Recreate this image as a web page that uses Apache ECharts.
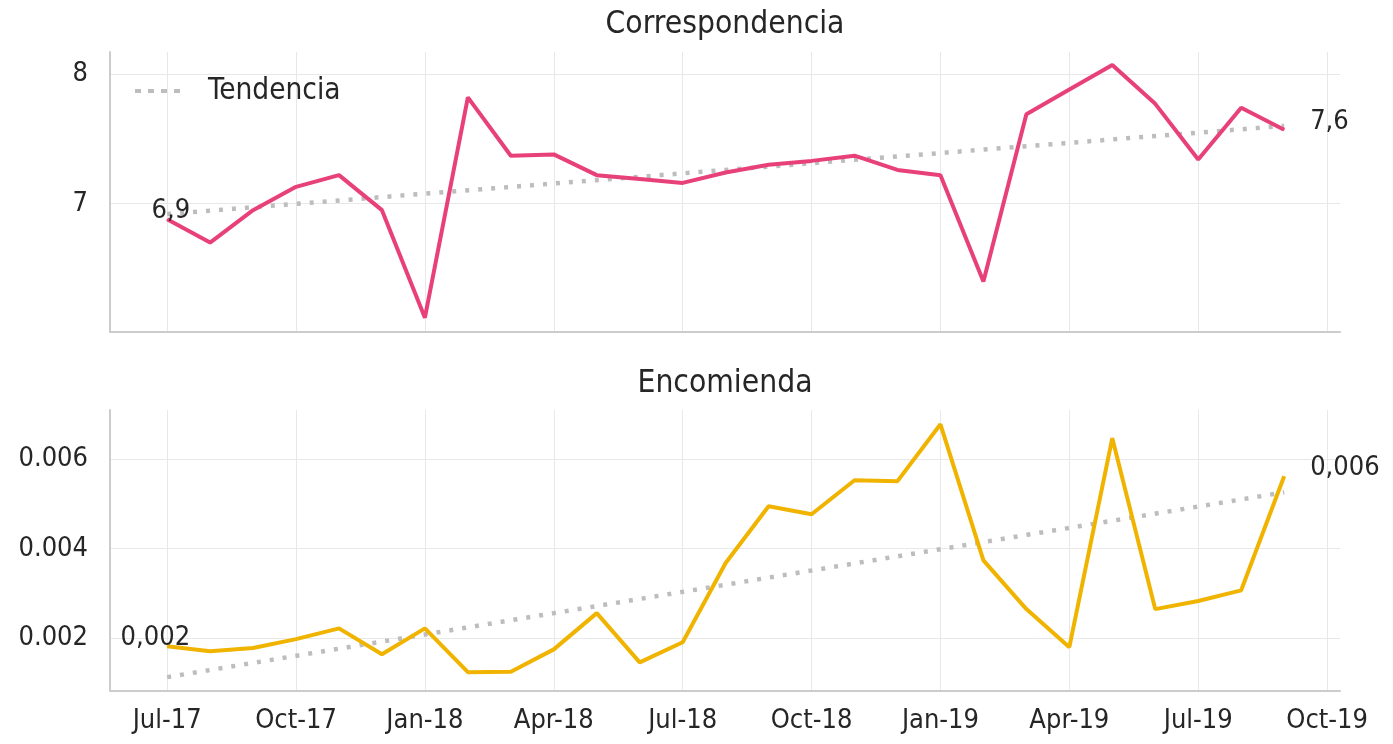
<!DOCTYPE html>
<html>
<head>
<meta charset="utf-8">
<script src="https://cdn.jsdelivr.net/npm/echarts@6/dist/echarts.min.js"></script>
<style>
html, body { margin: 0; padding: 0; background: #fff; }
#chart { width: 1393px; height: 744px; }
</style>
</head>
<body>
<div id="chart"></div>
<script>
// months Jul-17 .. Sep-19, x = month index from Jul-17
const months = ['Jul-17','Aug-17','Sep-17','Oct-17','Nov-17','Dec-17','Jan-18','Feb-18','Mar-18','Apr-18','May-18','Jun-18',
  'Jul-18','Aug-18','Sep-18','Oct-18','Nov-18','Dec-18','Jan-19','Feb-19','Mar-19','Apr-19','May-19','Jun-19','Jul-19','Aug-19','Sep-19'];
const tickLabels = ['Jul-17','Oct-17','Jan-18','Apr-18','Jul-18','Oct-18','Jan-19','Apr-19','Jul-19','Oct-19'];
const tickIdx = [0, 3, 6, 9, 12, 15, 18, 21, 24, 27];

const correspondencia = [6.88, 6.70, 6.95, 7.13, 7.22, 6.95, 6.12, 7.82, 7.37, 7.38, 7.22, 7.19, 7.16,
  7.24, 7.30, 7.33, 7.37, 7.26, 7.22, 6.40, 7.69, 7.88, 8.07, 7.77, 7.34, 7.74, 7.57];
const encomienda = [0.00182, 0.00171, 0.00178, 0.00198, 0.00222, 0.00164, 0.00222, 0.00124, 0.00125, 0.00175,
  0.00256, 0.00146, 0.00191, 0.00368, 0.00495, 0.00477, 0.00553, 0.00551, 0.00678, 0.00374, 0.00265,
  0.00180, 0.00647, 0.00265, 0.00283, 0.00307, 0.00562];
// trend endpoints (first and last month)
const trendCorr = [6.92, 7.60];
const trendEnc = [0.00113, 0.00526];

const pink = '#e8417a';
const gold = '#f0b400';
const gray = '#bdbdbd';
const txt = '#262626';
const FONT = '"DejaVu Sans Condensed", "DejaVu Sans", sans-serif';

const myChart = echarts.init(document.getElementById('chart'));

function mainData(vals, digits) {
  const last = vals.length - 1;
  return vals.map((v, i) => {
    const item = { value: [i, v] };
    if (i === 0 || i === last) {
      item.label = {
        show: true,
        position: 'inside',
        align: i === 0 ? 'right' : 'left',
        offset: i === 0 ? [23, -8] : [26, -8],
        formatter: p => p.value[1].toFixed(digits).replace('.', ','),
        fontSize: 27,
        fontFamily: FONT,
        color: txt
      };
    }
    return item;
  });
}

function xAxis(gi, showLabels) {
  return {
    type: 'value',
    gridIndex: gi,
    min: -1.33,
    max: 27.3,
    axisLine: { show: true, onZero: false, lineStyle: { color: '#cccccc', width: 2 } },
    axisTick: { show: false, customValues: tickIdx },
    axisLabel: {
      show: showLabels,
      customValues: tickIdx,
      margin: 16,
      fontSize: 27,
      fontFamily: FONT,
      color: txt,
      formatter: v => tickLabels[tickIdx.indexOf(Math.round(v))] || ''
    },
    splitLine: { show: true, lineStyle: { color: '#e8e8e8', width: 1 } }
  };
}

function yAxis(gi, min, max, ticks) {
  return {
    type: 'value',
    gridIndex: gi,
    min: min,
    max: max,
    axisLine: { show: true, onZero: false, lineStyle: { color: '#cccccc', width: 2 } },
    axisTick: { show: false, customValues: ticks },
    axisLabel: {
      customValues: ticks,
      margin: 22,
      fontSize: 27,
      fontFamily: FONT,
      color: txt,
      formatter: v => String(v)
    },
    splitLine: { show: true, lineStyle: { color: '#e8e8e8', width: 1 } }
  };
}

const trendStyle = { color: gray, width: 4.5, type: [4, 9], cap: 'butt' };

const option = {
  animation: false,
  backgroundColor: '#fff',
  title: [
    { text: 'Correspondencia', left: 725, top: 9, textAlign: 'center', padding: 0,
      textStyle: { fontSize: 31.5, fontWeight: 'normal', fontFamily: FONT, color: txt } },
    { text: 'Encomienda', left: 725, top: 368, textAlign: 'center', padding: 0,
      textStyle: { fontSize: 31.5, fontWeight: 'normal', fontFamily: FONT, color: txt } }
  ],
  legend: {
    data: [{
      name: 'Tendencia',
      icon: 'path://M0,0h6v4h-6z M13,0h6v4h-6z M26,0h6v4h-6z M39,0h6v4h-6z'
    }],
    left: 135,
    top: 76,
    padding: 0,
    itemWidth: 45,
    itemHeight: 4,
    itemStyle: { color: gray },
    textStyle: { fontSize: 29.5, fontFamily: FONT, color: txt, padding: [0, 0, 0, 23] }
  },
  grid: [
    { left: 110, top: 52, width: 1230, height: 280 },
    { left: 110, top: 410, width: 1230, height: 281 }
  ],
  xAxis: [xAxis(0, false), xAxis(1, true)],
  yAxis: [
    yAxis(0, 6.01, 8.17, [7, 8]),
    yAxis(1, 0.00082, 0.0071, [0.002, 0.004, 0.006])
  ],
  series: [
    {
      name: 'Tendencia', type: 'line', xAxisIndex: 0, yAxisIndex: 0,
      data: [[0, trendCorr[0]], [months.length - 1, trendCorr[1]]],
      symbol: 'none', lineStyle: trendStyle, itemStyle: { color: gray }, z: 1,
      emphasis: { disabled: true }
    },
    {
      name: 'Correspondencia', type: 'line', xAxisIndex: 0, yAxisIndex: 0,
      data: mainData(correspondencia, 1),
      symbol: 'circle', symbolSize: 1, showSymbol: true,
      itemStyle: { color: pink }, lineStyle: { color: pink, width: 4 }, z: 2,
      emphasis: { disabled: true }
    },
    {
      name: 'Tendencia', type: 'line', xAxisIndex: 1, yAxisIndex: 1,
      data: [[0, trendEnc[0]], [months.length - 1, trendEnc[1]]],
      symbol: 'none', lineStyle: trendStyle, itemStyle: { color: gray }, z: 1,
      emphasis: { disabled: true }
    },
    {
      name: 'Encomienda', type: 'line', xAxisIndex: 1, yAxisIndex: 1,
      data: mainData(encomienda, 3),
      symbol: 'circle', symbolSize: 1, showSymbol: true,
      itemStyle: { color: gold }, lineStyle: { color: gold, width: 4 }, z: 2,
      emphasis: { disabled: true }
    }
  ]
};

myChart.setOption(option);
</script>
</body>
</html>
